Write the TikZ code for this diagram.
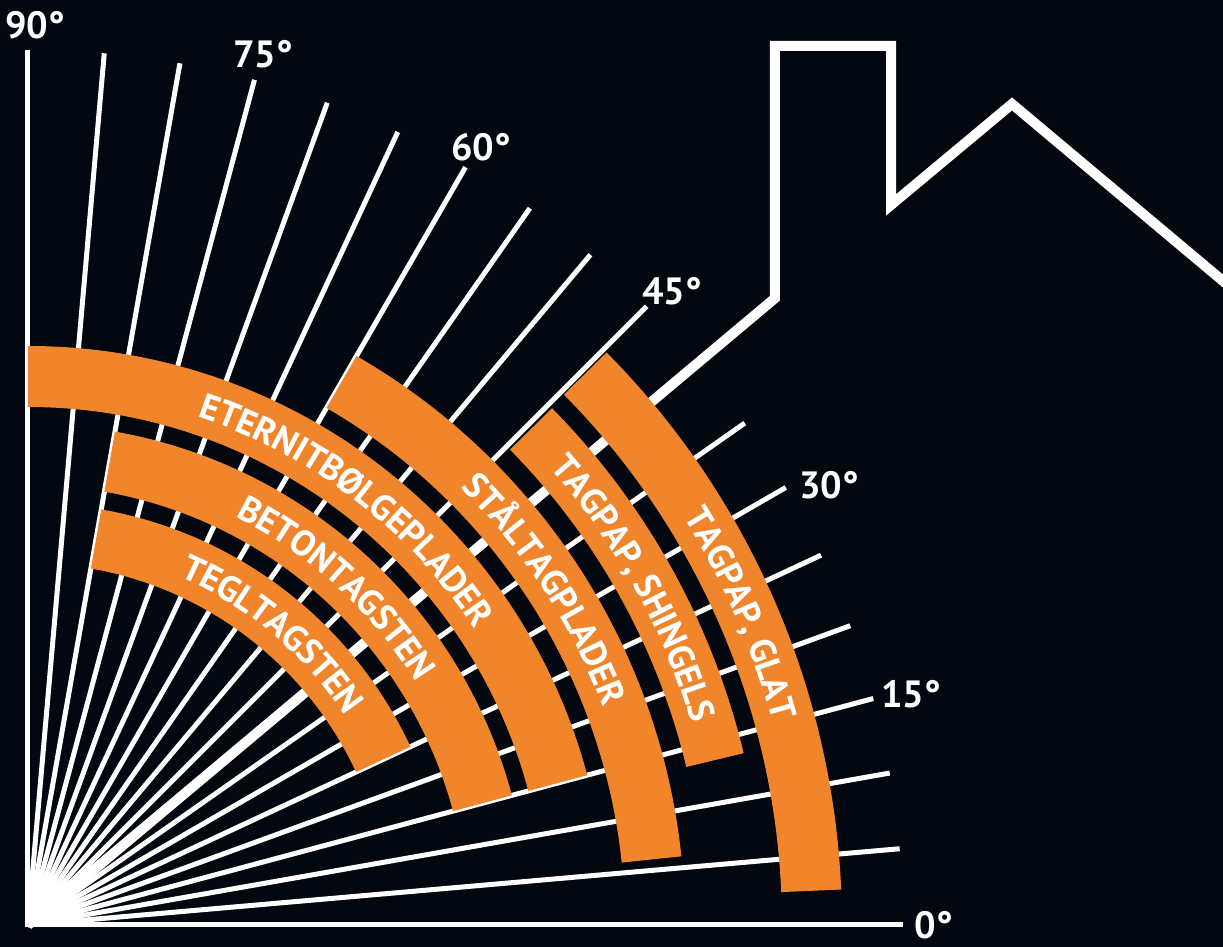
\documentclass[tikz,border=0pt]{standalone}
\usepackage{fontspec}
\setmainfont{PT Sans}
\usetikzlibrary{decorations.text}

\definecolor{nightblack}{RGB}{3,7,16}
\definecolor{tileorange}{RGB}{241,133,44}

\newcommand\labelfont{\fontsize{38}{40}\selectfont\bfseries}
\newcommand\bandfont{\fontsize{36}{40}\selectfont\bfseries}

\tikzset{
    % Colors
    night/.style={fill=nightblack},
    band color/.style={fill=tileorange},
    %
    % Lines
    ray/.style={white, line width=5pt},
    roof line/.style={white, line width=10pt, line join=miter},
    %
    % Bands and labels
    band/.style={band color},
    band text/.style={decorate, decoration={text along path, text={|\bandfont|#1},
        text align=center, raise=-12pt, text color=white}},
    angle label/.style={white, font=\labelfont, inner sep=0pt}
}

\begin{document}
\begin{tikzpicture}[x=1pt, y=1pt]
    \useasboundingbox (-28,-22) rectangle (1195,925);
    \clip (-28,-22) rectangle (1195,925);
    \fill[night] (-28,-22) rectangle (1195,925);

    % rays every 5 degrees
    \draw[ray] (90:875) -- (0,0) -- (0:875);
    \foreach \a in {5,10,...,85}
        \draw[ray] (0,0) -- (\a:875);

    % roof with chimney
    \draw[roof line] (0,0) -- (40:975) |- (863,879) -- (863,720) -- (984,821) -- ++(-40:400);

    % bands
    \fill[band] (80:362) arc[start angle=80, end angle=25, radius=362] -- (25:422) arc[start angle=25, end angle=80, radius=422] -- cycle;
    \fill[band] (80:440) arc[start angle=80, end angle=15, radius=440] -- (15:501) arc[start angle=15, end angle=80, radius=501] -- cycle;
    \fill[band] (90:518) arc[start angle=90, end angle=15, radius=518] -- (15:579) arc[start angle=15, end angle=90, radius=579] -- cycle;
    \fill[band] (60:597) arc[start angle=60, end angle=6, radius=597] -- (6:657) arc[start angle=6, end angle=60, radius=657] -- cycle;
    \fill[band] (44.6:677) arc[start angle=44.6, end angle=13.5, radius=677] -- (13.5:736) arc[start angle=13.5, end angle=44.6, radius=736] -- cycle;
    \fill[band] (44.7:754) arc[start angle=44.7, end angle=2.5, radius=754] -- (2.5:814) arc[start angle=2.5, end angle=44.7, radius=814] -- cycle;

    % names along the bands
    \path[band text=TEGLTAGSTEN] (80:392) arc[start angle=80, end angle=20, radius=392];
    \path[band text=BETONTAGSTEN] (80:470) arc[start angle=80, end angle=15, radius=470];
    \path[band text=ETERNITBØLGEPLADER] (90:548) arc[start angle=90, end angle=15, radius=548];
    \path[band text=STÅLTAGPLADER] (60:627) arc[start angle=60, end angle=6, radius=627];
    \path[band text={TAGPAP, SHINGELS}] (44.6:706) arc[start angle=44.6, end angle=13.5, radius=706];
    \path[band text={TAGPAP, GLAT}] (44.7:784) arc[start angle=44.7, end angle=2.5, radius=784];

    % angle labels
    \foreach \a/\x/\y in {0/906/0, 15/883/231, 30/801/440, 45/644/634, 60/453/778, 75/235/871, 90/7/900}
        \node[angle label] (l\a) at (\x,\y) {\a°};
\end{tikzpicture}
\end{document}
